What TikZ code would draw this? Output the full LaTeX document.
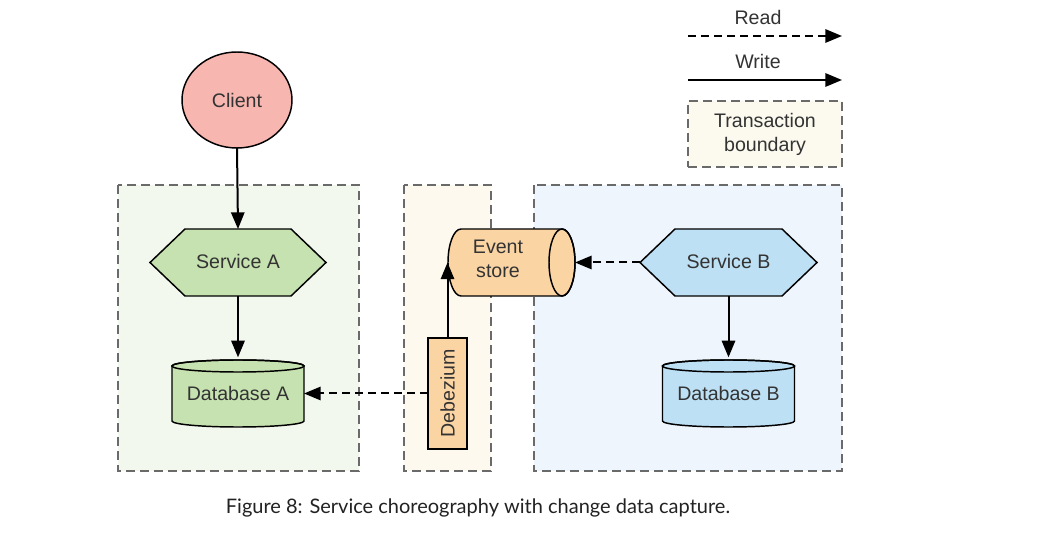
\documentclass[tikz,border=0pt]{standalone}
\usepackage{fontspec}
\setmainfont{Liberation Sans}
\newfontfamily\capfont{Lato}
\usetikzlibrary{arrows.meta,shapes.geometric,backgrounds}
\definecolor{clientc}{HTML}{F8B6B0}
\definecolor{greenc}{HTML}{C6E2B0}
\definecolor{grpA}{HTML}{F3F8EF}
\definecolor{grpD}{HTML}{FDF9EE}
\definecolor{orangec}{HTML}{FBD4A4}
\definecolor{bluec}{HTML}{BEE0F4}
\definecolor{grpB}{HTML}{EFF5FC}
\definecolor{legc}{HTML}{FCFAEE}
\definecolor{textc}{HTML}{333333}
\definecolor{dashc}{HTML}{6A6A6A}
\definecolor{capc}{HTML}{222222}
\tikzset{
  txt/.style={inner sep=0pt, outer sep=0pt, text=textc, font=\fontsize{14.7}{18}\selectfont, align=center},
  outline/.style={draw=black, line width=1.1pt, line join=miter},
  grp/.style={draw=dashc, line width=0.9pt, dash pattern=on 6.75pt off 3.75pt},
  conn/.style={line width=1.5pt, -{Triangle[length=12.5pt,width=10pt]}},
  rconn/.style={conn, dash pattern=on 6pt off 3.75pt},
}
\begin{document}
\begin{tikzpicture}[x=0.75pt,y=-0.75pt]
\useasboundingbox (0,0) rectangle (1042,534);

% page and groups (background layer, drawn first)
\begin{scope}[on background layer]
  \fill[white] (0,0) rectangle (1042,534);
  \draw[grp, fill=grpA] (118,185) rectangle (359,471);
  \draw[grp, fill=grpD] (404,185) rectangle (491,471);
  \draw[grp, fill=grpB] (534,185) rectangle (842,471);
\end{scope}

% Client
\node[txt, ellipse, outline, fill=clientc, minimum width=0.75*110pt, minimum height=0.75*96pt] (client) at (237,100) {Client};

% Service A
\node[txt, minimum width=0.75*176pt, minimum height=0.75*67pt] (sa) at (238,262.5) {\raisebox{1pt}{Service A}};
\begin{scope}[on background layer]
  \draw[outline, fill=greenc] (sa.west) -- ([xshift=26.25pt]sa.north west) -- ([xshift=-26.25pt]sa.north east) -- (sa.east) -- ([xshift=-26.25pt]sa.south east) -- ([xshift=26.25pt]sa.south west) -- cycle;
\end{scope}

% Database A
\node[txt, minimum width=0.75*132pt, minimum height=0.75*67pt] (dba) at (238,393.5) {\raisebox{-3pt}{Database A}};
\begin{scope}[on background layer]
  \draw[outline, fill=greenc] ([yshift=-4.5pt]dba.north west) -- ([yshift=4.5pt]dba.south west)
     arc[start angle=180, end angle=360, x radius=49.5pt, y radius=4.5pt]
     -- ([yshift=-4.5pt]dba.north east)
     arc[start angle=0, end angle=180, x radius=49.5pt, y radius=4.5pt] -- cycle;
  \draw[outline] ([yshift=-4.5pt]dba.north) ellipse[x radius=49.5pt, y radius=4.5pt];
\end{scope}

% Event store
\node[txt, minimum width=0.75*127pt, minimum height=0.75*67pt] (es) at (511.5,262.5) {};
\begin{scope}[on background layer]
  \draw[outline, fill=orangec] ([xshift=9.75pt]es.north west) -- ([xshift=-9.75pt]es.north east)
     arc[start angle=90, end angle=-90, x radius=9.75pt, y radius=25.125pt]
     -- ([xshift=9.75pt]es.south west)
     arc[start angle=270, end angle=90, x radius=9.75pt, y radius=25.125pt] -- cycle;
  \draw[outline] ([xshift=-9.75pt]es.east) ellipse[x radius=9.75pt, y radius=25.125pt];
\end{scope}
\node[txt] (eslabel) at (498,259) {Event\\store};

% Debezium
\node[txt, outline, fill=orangec, rotate=90, minimum width=0.75*111pt, minimum height=0.75*39pt] (dbz) at (447.5,393.5) {Debezium};

% Service B
\node[txt, minimum width=0.75*177pt, minimum height=0.75*67pt] (sb) at (728.5,262.5) {\raisebox{1pt}{Service B}};
\begin{scope}[on background layer]
  \draw[outline, fill=bluec] (sb.west) -- ([xshift=26.25pt]sb.north west) -- ([xshift=-26.25pt]sb.north east) -- (sb.east) -- ([xshift=-26.25pt]sb.south east) -- ([xshift=26.25pt]sb.south west) -- cycle;
\end{scope}

% Database B
\node[txt, minimum width=0.75*132pt, minimum height=0.75*67pt] (dbb) at (728.5,393.5) {\raisebox{-3pt}{Database B}};
\begin{scope}[on background layer]
  \draw[outline, fill=bluec] ([yshift=-4.5pt]dbb.north west) -- ([yshift=4.5pt]dbb.south west)
     arc[start angle=180, end angle=360, x radius=49.5pt, y radius=4.5pt]
     -- ([yshift=-4.5pt]dbb.north east)
     arc[start angle=0, end angle=180, x radius=49.5pt, y radius=4.5pt] -- cycle;
  \draw[outline] ([yshift=-4.5pt]dbb.north) ellipse[x radius=49.5pt, y radius=4.5pt];
\end{scope}

% connectors
\draw[conn] (client.south) -- (sa.north);
\draw[conn] (sa.south) -- ([yshift=2pt]dba.north);
\draw[conn] (dbz.east) -- (dbz.east |- es.west);
\draw[rconn] (dbz.north) -- (dba.east);
\draw[rconn] (sb.west) -- (es.east);
\draw[conn] (sb.south) -- ([yshift=2pt]dbb.north);

% legend
\node[txt] (readl) at (758,17) {Read};
\coordinate (r1) at (688,36);
\coordinate (r2) at (842,36);
\draw[rconn] (r1) -- (r2);
\node[txt] (writel) at (758,61) {Write};
\coordinate (w1) at (688,80);
\coordinate (w2) at (842,80);
\draw[conn] (w1) -- (w2);
\node[txt, grp, fill=legc, minimum width=0.75*154pt, minimum height=0.75*66pt] (tb) at (765,134) {Transaction\\boundary};

% caption
\node[inner sep=0pt, text=capc, font=\capfont\fontsize{15}{18}\selectfont] (cap) at (478,508) {Figure 8: Service choreography with change data capture.};
\end{tikzpicture}
\end{document}
